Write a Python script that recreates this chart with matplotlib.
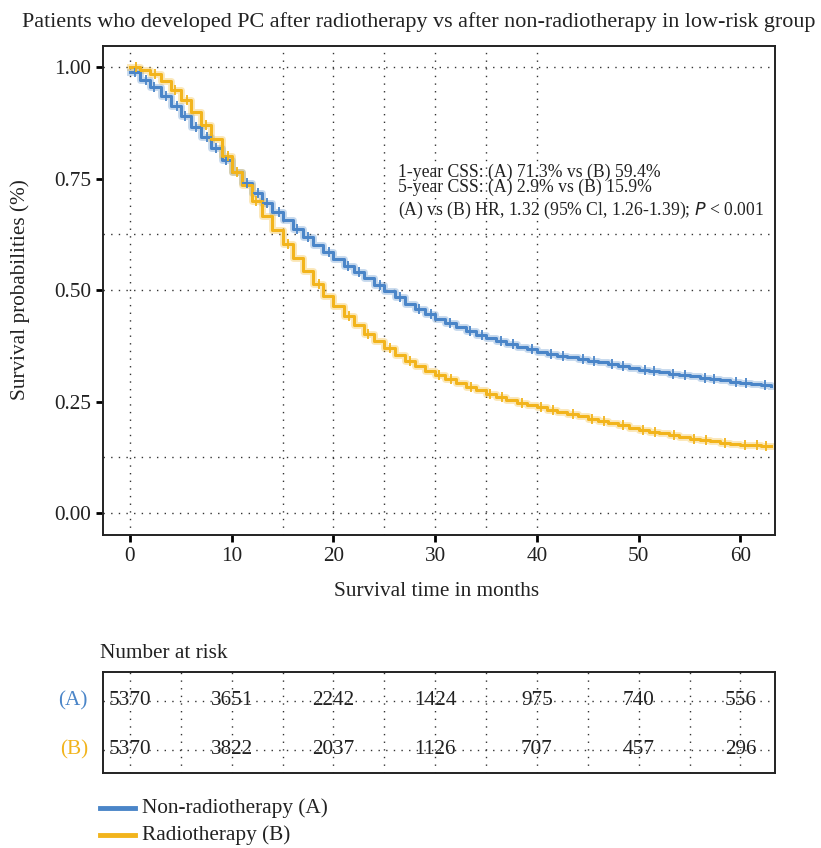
import numpy as np
import matplotlib
matplotlib.use("Agg")
import matplotlib.pyplot as plt

plt.rcParams["font.family"] = ["Liberation Serif", "DejaVu Serif"]

# survival time (months) and KM estimates
months = list(range(0, 64))
surv_a = [0.988, 0.972, 0.955, 0.935, 0.913, 0.890, 0.866, 0.843, 0.818, 0.792,
          0.765, 0.740, 0.717, 0.696, 0.676, 0.657, 0.638, 0.620, 0.602, 0.585,
          0.569, 0.555, 0.541, 0.527, 0.512, 0.498, 0.484, 0.470, 0.458, 0.447,
          0.436, 0.426, 0.417, 0.408, 0.400, 0.393, 0.386, 0.379, 0.373, 0.367,
          0.362, 0.357, 0.353, 0.349, 0.346, 0.342, 0.338, 0.334, 0.330, 0.326,
          0.322, 0.319, 0.316, 0.313, 0.310, 0.307, 0.304, 0.301, 0.298, 0.295,
          0.292, 0.290, 0.288, 0.286]
surv_b = [1.000, 0.993, 0.985, 0.968, 0.948, 0.926, 0.900, 0.870, 0.838, 0.800,
          0.765, 0.735, 0.700, 0.666, 0.635, 0.603, 0.572, 0.542, 0.513, 0.487,
          0.465, 0.442, 0.421, 0.402, 0.385, 0.370, 0.355, 0.342, 0.330, 0.319,
          0.309, 0.300, 0.292, 0.284, 0.276, 0.268, 0.261, 0.254, 0.248, 0.242,
          0.237, 0.232, 0.227, 0.222, 0.217, 0.212, 0.207, 0.202, 0.197, 0.192,
          0.187, 0.183, 0.179, 0.175, 0.171, 0.167, 0.164, 0.161, 0.158, 0.156,
          0.154, 0.152, 0.151, 0.150]

# censoring marks (months)
censor_a = [0.5, 1.6, 2.4, 3.5, 4.6, 5.4, 6.5, 7.6, 8.5, 9.4, 11.5, 12.6, 13.5,
            14.6, 16.4, 17.5, 19.6, 21.4, 22.5, 24.6, 26.5, 28.4, 29.6, 31.5,
            33.4, 34.6, 36.5, 37.6, 39.5, 41.4, 42.6, 44.5, 45.6, 47.4, 48.5,
            50.6, 51.5, 53.4, 54.6, 56.5, 57.4, 59.6, 60.5, 62.4]
censor_b = [0.6, 2.5, 4.4, 5.6, 7.5, 9.6, 10.5, 12.4, 15.5, 18.6, 21.5, 23.4,
            25.6, 27.5, 30.4, 31.6, 33.5, 35.4, 36.6, 38.5, 40.4, 41.6, 43.5,
            45.4, 46.6, 48.5, 50.4, 51.6, 53.5, 55.4, 56.6, 58.5, 60.4, 61.6, 62.5]

risk_times = [0, 10, 20, 30, 40, 50, 60]
risk_a = [5370, 3651, 2242, 1424, 975, 740, 556]
risk_b = [5370, 3822, 2037, 1126, 707, 457, 296]

labels = ["Non-radiotherapy (A)", "Radiotherapy (B)"]
blue = "#4a85c8"
gold = "#f2b41c"
dot = (0, (1, 4.5))
gcol = "#333333"
txt = "#222222"
fs = 15.3
xlim = (-2.65, 63.4)

fig = plt.figure(figsize=(8.21, 8.48), dpi=100)

# ---- KM curves
ax = fig.add_axes([0.1255, 0.369, 0.8185, 0.5767])
for yv in [0.0, 0.125, 0.5, 0.625, 1.0]:
    ax.axhline(yv, color=gcol, lw=1.0, ls=dot, zorder=0)
for xv in [0, 15, 20, 25, 30, 35, 40]:
    ax.axvline(xv, color=gcol, lw=1.0, ls=dot, zorder=0)

for surv, cens, col in [(surv_a, censor_a, blue), (surv_b, censor_b, gold)]:
    t = np.array(months, dtype=float)
    s = np.array(surv)
    ax.step(t, s, where="post", color=col, lw=5, alpha=0.3, zorder=2)
    ax.step(t, s, where="post", color=col, lw=2.2, zorder=3)
    c = np.array(cens)
    cy = s[np.searchsorted(t, c, side="right") - 1]
    ax.plot(c, cy, ls="none", marker="+", ms=7, mew=1.3, color=col, zorder=4)

ax.set_xlim(*xlim)
ax.set_ylim(-0.049, 1.047)
ax.set_xticks(range(0, 61, 10))
ax.set_yticks([0, 0.25, 0.5, 0.75, 1.0])
ax.set_yticklabels(["0.00", "0.25", "0.50", "0.75", "1.00"])
ax.tick_params(labelsize=fs, width=2, length=5, color="black", labelcolor=txt)
for sp in ax.spines.values():
    sp.set_linewidth(1.4)
    sp.set_color(txt)

ax.text(26.35, 0.765, "1-year CSS: (A) 71.3% vs (B) 59.4%", fontsize=12.7, va="center", color=txt)
ax.text(26.35, 0.730, "5-year CSS: (A) 2.9% vs (B) 15.9%", fontsize=12.7, va="center", color=txt)
ax.text(26.35, 0.679, "(A) vs (B) HR, 1.32 (95% Cl, 1.26-1.39); $\\it{P}$ < 0.001",
        fontsize=12.7, va="center", color=txt)

fig.text(0.027, 0.974, "Patients who developed PC after radiotherapy vs after non-radiotherapy in low-risk group",
         fontsize=15.9, va="center", ha="left", color=txt)
fig.text(0.025, 0.658, "Survival probabilities (%)", rotation=90, fontsize=fs,
         va="center", ha="center", color=txt)
fig.text(0.532, 0.302, "Survival time in months", fontsize=fs, va="center", ha="center", color=txt)

# ---- number at risk table
rt = fig.add_axes([0.1255, 0.0884, 0.8185, 0.1191])
rt.set_xlim(*xlim)
rt.set_ylim(0.53, 2.59)
for yv in [1, 2]:
    rt.axhline(yv, color=gcol, lw=1.0, ls=dot, zorder=0)
for xv in range(0, 61, 5):
    rt.axvline(xv, color=gcol, lw=1.0, ls=dot, zorder=0)
for x, a, b in zip(risk_times, risk_a, risk_b):
    rt.text(x, 2, str(a), ha="center", va="center", fontsize=fs, color=txt)
    rt.text(x, 1, str(b), ha="center", va="center", fontsize=fs, color=txt)
rt.set_xticks([])
rt.set_yticks([])
for sp in rt.spines.values():
    sp.set_linewidth(1.4)
    sp.set_color(txt)
fig.text(0.107, 1 - 701 / 848, "(A)", color=blue, fontsize=fs, ha="right", va="center")
fig.text(0.107, 1 - 750 / 848, "(B)", color=gold, fontsize=fs, ha="right", va="center")
fig.text(0.122, 1 - 653 / 848, "Number at risk", fontsize=fs, ha="left", va="center", color=txt)

# ---- legend
for i, (lab, col) in enumerate(zip(labels, [blue, gold])):
    yy = 1 - (808 + 27 * i) / 848
    fig.add_artist(plt.Line2D([0.122, 0.165], [yy, yy], color=col, lw=3.5))
    fig.text(0.173, yy, lab, fontsize=fs, ha="left", va="center", color=txt)

fig.savefig("out.png", dpi=100)
